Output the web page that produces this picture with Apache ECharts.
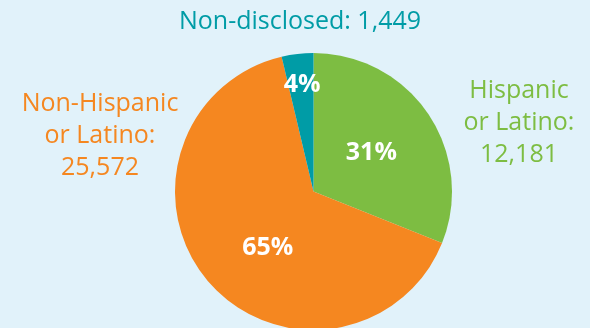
<!DOCTYPE html>
<html><head><meta charset="utf-8">
<script src="https://cdn.jsdelivr.net/npm/echarts@6/dist/echarts.min.js"></script>
<style>html,body{margin:0;padding:0;background:#e1f2fa}#c{width:590px;height:328px}</style>
</head><body><div id="c"></div>
<script>
var categories = ["Hispanic or Latino", "Non-Hispanic or Latino", "Non-disclosed"];
var values = [12181, 25572, 1449];
var colors = ["#7dbd42", "#f58720", "#009ca6"];
var outerLabels = [
  ["Hispanic", "or Latino:", "12,181"],
  ["Non-Hispanic", "or Latino:", "25,572"],
  ["Non-disclosed: 1,449"]
];
var FONT = "'Open Sans'";
var chart = echarts.init(document.getElementById('c'));
var labelPos = [[519, 91], [100, 104], [300, 22]];
var graphics = [];
outerLabels.forEach(function (lines, i) {
  var n = lines.length;
  graphics.push({
    type: 'text', x: labelPos[i][0], y: labelPos[i][1] + (n - 1) * 16,
    style: {
      text: lines.join('\n'), fill: colors[i], font: '25px ' + FONT,
      textAlign: 'center', textVerticalAlign: 'middle', lineHeight: 32
    }
  });
});
chart.setOption({
  backgroundColor: '#e1f2fa',
  animation: false,
  graphic: graphics,
  series: [{
    type: 'pie',
    center: [313.5, 191.5],
    radius: 138.5,
    startAngle: 90,
    clockwise: true,
    data: categories.map(function (c, i) {
      return { name: c, value: values[i], itemStyle: { color: colors[i] } };
    }),
    label: {
      position: 'inner',
      formatter: function (p) { return Math.round(p.percent) + '%'; },
      color: '#fff', fontFamily: FONT, fontWeight: 'bold', fontSize: 25
    },
    labelLine: { show: false },
    labelLayout: function (p) {
      if (p.dataIndex === 2) return { dx: -3, dy: -35 };
      if (p.dataIndex === 1) return { dx: 9, dy: 9 };
      return { dx: -2, dy: 2 };
    },
    emphasis: { disabled: true }
  }]
});
</script></body></html>
